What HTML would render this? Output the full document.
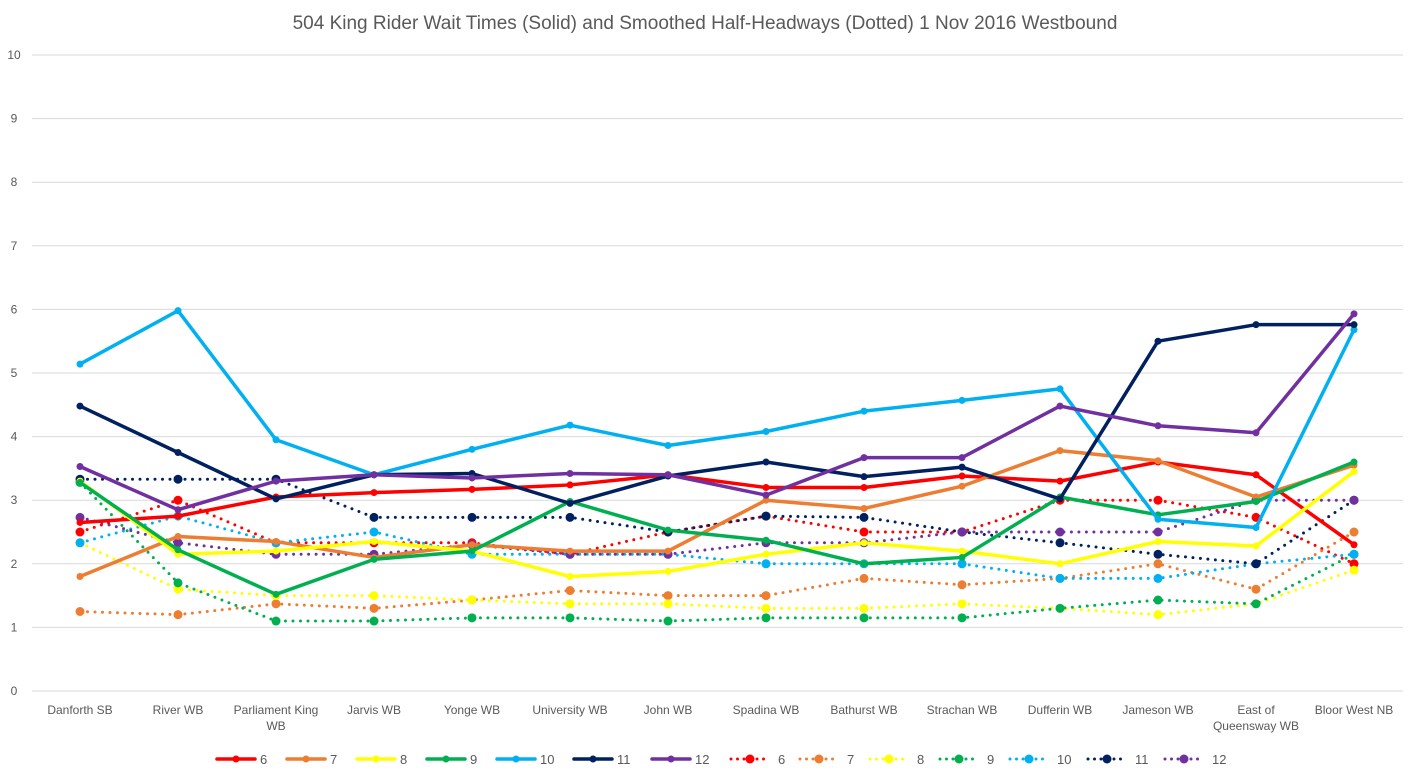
<!DOCTYPE html>
<html><head><meta charset="utf-8"><style>
body{margin:0;background:#fff;font-family:"Liberation Sans",sans-serif;}
svg text{font-family:"Liberation Sans",sans-serif;}
</style></head><body>
<svg id="c" width="1411" height="775" xmlns="http://www.w3.org/2000/svg">
<text x="705" y="29" text-anchor="middle" font-size="19" fill="#595959">504 King Rider Wait Times (Solid) and Smoothed Half-Headways (Dotted) 1 Nov 2016 Westbound</text>
<g id="grid"></g><g id="xl"></g><g id="series"></g><g id="legend"></g>
</svg>
<script>
const categories=["Danforth SB","River WB","Parliament King|WB","Jarvis WB","Yonge WB","University WB","John WB","Spadina WB","Bathurst WB","Strachan WB","Dufferin WB","Jameson WB","East of|Queensway WB","Bloor West NB"];
const yTicks=[0,1,2,3,4,5,6,7,8,9,10];
const seriesNames=["6","7","8","9","10","11","12"];
const seriesColors=["#ff0000","#ed7d31","#ffff00","#00b050","#00b0f0","#002060","#7030a0"];
const wait6=[2.65,2.75,3.05,3.12,3.17,3.24,3.4,3.2,3.2,3.38,3.3,3.6,3.4,2.3];
const wait7=[1.8,2.43,2.35,2.1,2.3,2.2,2.2,3.0,2.87,3.22,3.78,3.62,3.05,3.55];
const wait8=[3.3,2.15,2.2,2.35,2.2,1.8,1.88,2.15,2.33,2.2,2.0,2.35,2.28,3.45];
const wait9=[3.28,2.22,1.52,2.07,2.2,2.98,2.53,2.37,2.0,2.1,3.05,2.77,2.98,3.6];
const wait10=[5.14,5.98,3.95,3.4,3.8,4.18,3.86,4.08,4.4,4.57,4.75,2.7,2.57,5.68];
const wait11=[4.48,3.75,3.02,3.4,3.42,2.95,3.38,3.6,3.37,3.52,3.02,5.5,5.76,5.76];
const wait12=[3.53,2.85,3.3,3.4,3.35,3.42,3.4,3.08,3.67,3.67,4.48,4.17,4.06,5.93];
const head6=[2.5,3.0,2.33,2.33,2.33,2.15,2.5,2.75,2.5,2.5,3.0,3.0,2.73,2.0];
const head7=[1.25,1.2,1.37,1.3,1.43,1.58,1.5,1.5,1.77,1.67,1.77,2.0,1.6,2.5];
const head8=[2.33,1.6,1.5,1.5,1.43,1.37,1.37,1.3,1.3,1.37,1.3,1.2,1.37,1.9];
const head9=[3.28,1.7,1.1,1.1,1.15,1.15,1.1,1.15,1.15,1.15,1.3,1.43,1.37,2.15];
const head10=[2.33,2.75,2.33,2.5,2.15,2.15,2.15,2.0,2.0,2.0,1.77,1.77,2.0,2.15];
const head11=[3.33,3.33,3.33,2.73,2.73,2.73,2.5,2.75,2.73,2.5,2.33,2.15,2.0,3.0];
const head12=[2.73,2.33,2.15,2.15,2.3,2.15,2.15,2.33,2.33,2.5,2.5,2.5,3.0,3.0];
const waits=[wait6,wait7,wait8,wait9,wait10,wait11,wait12];
const heads=[head6,head7,head8,head9,head10,head11,head12];

const NS="http://www.w3.org/2000/svg";
const x=i=>80+i*98;
const y=v=>691-v*63.6;
function mk(t,a,p){const e=document.createElementNS(NS,t);for(const k in a)e.setAttribute(k,a[k]);p.appendChild(e);return e;}
const grid=document.getElementById('grid');
yTicks.forEach(t=>{
  const l=mk('line',{x1:32,x2:1403,y1:y(t),y2:y(t),stroke:'#d9d9d9','stroke-width':1},grid);
  
  
  const tx=mk('text',{x:14,y:y(t)+4,'text-anchor':'middle','font-size':12,fill:'#595959'},grid);
  tx.textContent=t;
  
  
});
const xl=document.getElementById('xl');
categories.forEach((c,i)=>{
  const tx=mk('text',{x:x(i),y:714,'text-anchor':'middle','font-size':12,fill:'#595959'},xl);
  
  
  c.split('|').forEach((s,j)=>{const ts=mk('tspan',{x:x(i),dy:j?16:0},tx);ts.textContent=s;});
});
const sg=document.getElementById('series');
function drawSeries(vals,col,dotted,name){
  const g=mk('g',{},sg);
  
  
  const pts=vals.map((v,i)=>x(i)+','+y(v)).join(' ');
  const a={points:pts,fill:'none',stroke:col,'stroke-width':dotted?3:3.5,'stroke-linejoin':'round','stroke-linecap':'round'};
  if(dotted)a['stroke-dasharray']='0 7.5';
  mk('polyline',a,g);
  vals.forEach((v,i)=>{const c=mk('circle',{cx:x(i),cy:y(v),r:dotted?4.5:3.5,fill:col},g);
    
    });
}
heads.forEach((h,k)=>drawSeries(h,seriesColors[k],true,'headway-series-'+seriesNames[k]));
waits.forEach((w,k)=>drawSeries(w,seriesColors[k],false,'wait-series-'+seriesNames[k]));
const lg=document.getElementById('legend');
const starts=[217,287,357,427,497,574,652,731,800,870,940,1010,1088,1165];
starts.forEach((sx,j)=>{
  const k=j%7,dotted=j>=7,col=seriesColors[k];
  const g=mk('g',{},lg);
  
  
  const a={x1:sx,x2:sx+38,y1:759,y2:759,stroke:col,'stroke-width':dotted?3:3.5,'stroke-linecap':'round'};
  if(dotted)a['stroke-dasharray']='0 6.5';
  mk('line',a,g);
  mk('circle',{cx:sx+19,cy:759,r:dotted?4.5:3.5,fill:col},g);
  const t=mk('text',{x:sx+(dotted?47:43),y:764,'font-size':13,fill:'#595959'},g);
  t.textContent=seriesNames[k];
});
</script>
</body></html>
